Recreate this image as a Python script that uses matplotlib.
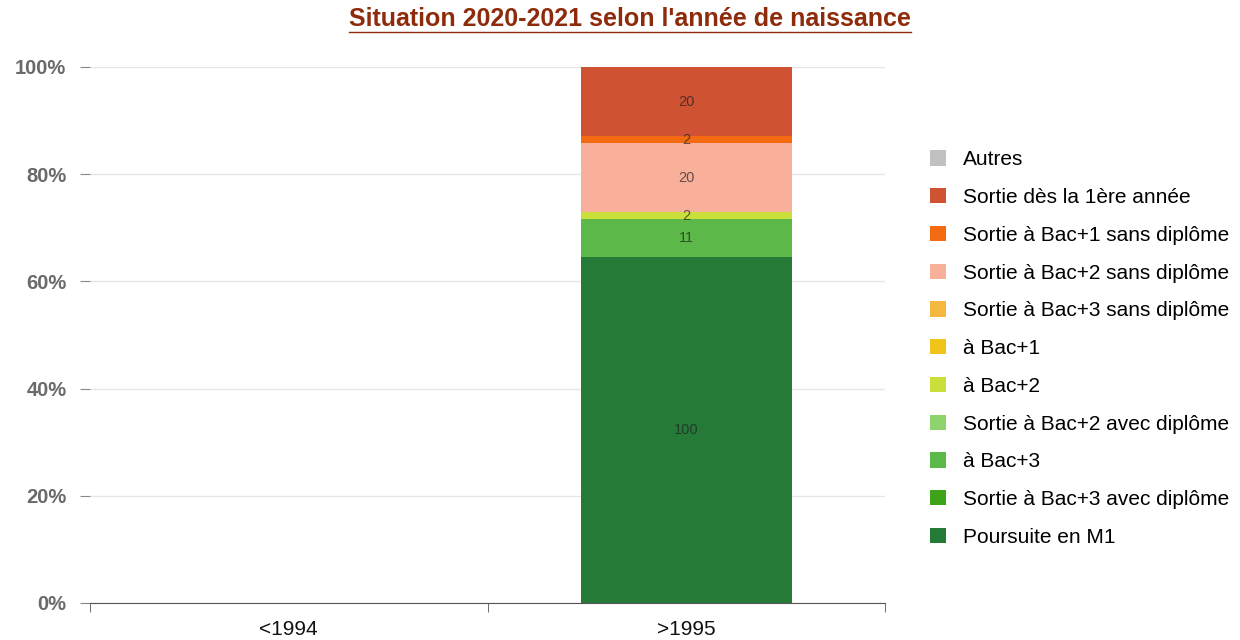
import matplotlib.pyplot as plt
from matplotlib.lines import Line2D
from matplotlib.patches import Patch
from matplotlib.ticker import PercentFormatter

plt.rcParams['font.family'] = ['Liberation Sans', 'DejaVu Sans']

# categories (birth year groups)
categories = ["<1994", ">1995"]

# series, bottom of the stack first
series_names = [
    "Poursuite en M1",
    "Sortie à Bac+3 avec diplôme",
    "à Bac+3",
    "Sortie à Bac+2 avec diplôme",
    "à Bac+2",
    "à Bac+1",
    "Sortie à Bac+3 sans diplôme",
    "Sortie à Bac+2 sans diplôme",
    "Sortie à Bac+1 sans diplôme",
    "Sortie dès la 1ère année",
    "Autres",
]
series_colors = [
    "#257A38", "#3DA319", "#5CB848", "#8ED36B", "#CADF3A", "#F0C419",
    "#F4B740", "#F9B09A", "#F46A12", "#CF5232", "#C0C0C0",
]
# counts per series, one value per category
counts_poursuite_m1 = [0, 100]
counts_bac3_avec = [0, 0]
counts_a_bac3 = [0, 11]
counts_bac2_avec = [0, 0]
counts_a_bac2 = [0, 2]
counts_a_bac1 = [0, 0]
counts_bac3_sans = [0, 0]
counts_bac2_sans = [0, 20]
counts_bac1_sans = [0, 2]
counts_1ere_annee = [0, 20]
counts_autres = [0, 0]

series_values = [
    counts_poursuite_m1, counts_bac3_avec, counts_a_bac3, counts_bac2_avec,
    counts_a_bac2, counts_a_bac1, counts_bac3_sans, counts_bac2_sans,
    counts_bac1_sans, counts_1ere_annee, counts_autres,
]

totals = [sum(v[i] for v in series_values) for i in range(len(categories))]

fig = plt.figure(figsize=(12.4, 6.4), dpi=100)
ax = fig.add_axes([90 / 1240, 1 - 603 / 640, 795 / 1240, 536 / 640])

x = list(range(len(categories)))
bottoms = [0.0] * len(categories)
for name, color, vals in zip(series_names, series_colors, series_values):
    shares = [v / t if t else 0 for v, t in zip(vals, totals)]
    ax.bar(x, shares, width=0.53, bottom=bottoms, color=color, zorder=3)
    for i, (v, s) in enumerate(zip(vals, shares)):
        if v > 0:
            ax.text(x[i], bottoms[i] + s / 2, str(v), ha='center', va='center',
                    fontsize=10.5, color='#222222', alpha=0.7, zorder=4)
    bottoms = [b + s for b, s in zip(bottoms, shares)]

ax.set_xlim(-0.5, len(categories) - 0.5)
ax.set_ylim(0, 1)
ax.set_yticks([0, 0.2, 0.4, 0.6, 0.8, 1.0])
ax.yaxis.set_major_formatter(PercentFormatter(1.0, decimals=0))
ax.grid(axis='y', color='#E6E6E6', linewidth=1, zorder=0)
ax.set_xticks(x)
ax.set_xticklabels(categories)
ax.set_xticks([-0.5, 0.5, 1.5], minor=True)
ax.tick_params(axis='x', which='major', length=0, pad=12, labelsize=15, labelcolor='#111111')
ax.tick_params(axis='x', which='minor', length=6.5, color='#555555', direction='out')
ax.tick_params(axis='y', length=7.5, pad=9.5, color='#888888', labelsize=14.5, labelcolor='#6A6A6A')
for lab in ax.get_yticklabels():
    lab.set_fontweight('bold')
for side in ['top', 'right', 'left']:
    ax.spines[side].set_visible(False)
ax.spines['bottom'].set_color('#555555')
ax.set_axisbelow(True)

# legend, top entry first
handles = [Patch(facecolor=c, edgecolor='none') for c in series_colors[::-1]]
fig.legend(handles, series_names[::-1], loc='upper left',
           bbox_to_anchor=(922 / 1240, 1 - 142 / 640), frameon=False,
           fontsize=15, handlelength=0.75, handleheight=0.75,
           handletextpad=0.8, labelspacing=0.9, borderaxespad=0)

# underlined title
title = fig.text(630 / 1240, 1 - 19 / 640, "Situation 2020-2021 selon l'année de naissance",
                 ha='center', va='center', fontsize=18, fontweight='bold', color='#8E2B0B')
fig.canvas.draw()
bb = title.get_window_extent().transformed(fig.transFigure.inverted())
fig.add_artist(Line2D([bb.x0, bb.x1], [bb.y0 - 0.002, bb.y0 - 0.002],
                      transform=fig.transFigure, color='#8E2B0B', linewidth=1))

fig.savefig("out.png", dpi=100)
